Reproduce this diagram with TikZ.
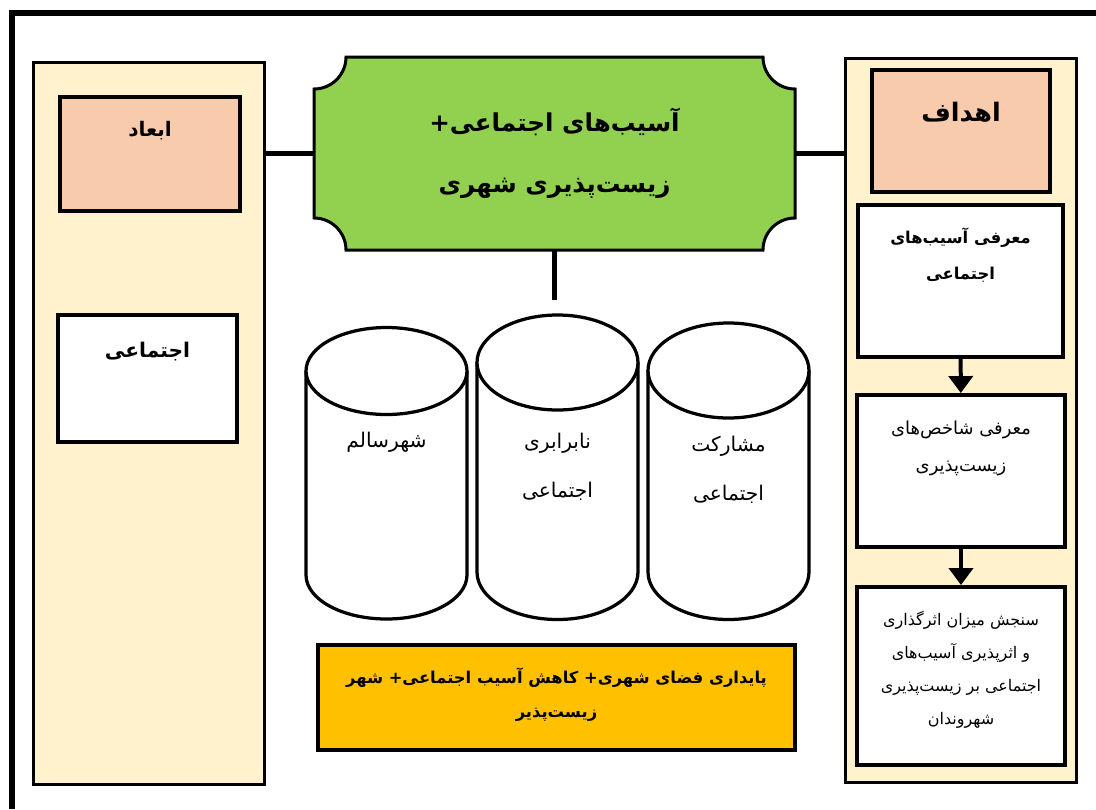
\documentclass[tikz,border=0pt]{standalone}
\usepackage{fontspec}
\newfontfamily\fa[Script=Arabic]{DejaVu Sans}
\TeXXeTstate=1
\usetikzlibrary{arrows.meta}
\definecolor{cream}{HTML}{FFF2CC}
\definecolor{peach}{HTML}{F8CBAD}
\definecolor{leaf}{HTML}{92D050}
\definecolor{amber}{HTML}{FFC000}
\tikzset{
  column/.style={draw,fill=cream,line width=0.06cm,inner sep=0pt,minimum width=4.64cm},
  headbox/.style={draw,fill=peach,line width=0.08cm,inner sep=0pt},
  whitebox/.style={draw,fill=white,line width=0.08cm,inner sep=0pt},
  link/.style={line width=0.1cm},
  flow/.style={line width=0.08cm,-{Triangle[width=0.48cm,length=0.34cm]}},
  drum/.style={draw,fill=white,line width=0.065cm},
  word/.style={font=\fa\fontsize{12}{20}\selectfont,align=center,inner sep=0pt},
  boldword/.style={align=center,inner sep=0pt,font=\fa\bfseries\fontsize{12}{20}\selectfont}
}
\begin{document}
\begin{tikzpicture}[x=0.02cm,y=-0.02cm]
  \useasboundingbox (0,0) rectangle (1096,809);
  \draw[line width=0.11cm] (12,809) -- (12,13) -- (1096,13);

  \node[column,minimum height=14.46cm] (dims) at (149,423.5) {};
  \node[column,minimum height=14.5cm] (goals) at (961,420.5) {};

  \node[headbox,minimum width=3.6cm,minimum height=2.28cm] (dimhead) at (150,154) {};
  \node[boldword,font=\fa\bfseries\fontsize{11.4}{14}\selectfont] (dimtxt) at (150,131) {\beginR ابعاد\endR};
  \node[whitebox,minimum width=3.58cm,minimum height=2.54cm] (social) at (147.5,378.5) {};
  \node[boldword,font=\fa\bfseries\fontsize{11.5}{16}\selectfont] (socialtxt) at (147.5,352) {\beginR اجتماعی\endR};

  \node[headbox,minimum width=3.56cm,minimum height=2.44cm] (goalhead) at (961,131) {};
  \node[boldword,font=\fa\bfseries\fontsize{14.5}{20}\selectfont] (goaltxt) at (961,112) {\beginR اهداف\endR};
  \node[whitebox,minimum width=4.1cm,minimum height=3.04cm] (step1) at (960.5,281) {};
  \node[boldword,font=\fa\bfseries\fontsize{9.3}{20.4}\selectfont] (step1txt) at (960.5,255) {\beginR معرفی آسیب‌های\endR\\\beginR اجتماعی\endR};
  \node[whitebox,minimum width=4.16cm,minimum height=3.04cm] (step2) at (961,471) {};
  \node[word,font=\fa\fontsize{10.2}{21}\selectfont] (step2txt) at (961,448.5) {\beginR معرفی شاخص‌های\endR\\\beginR زیست‌پذیری\endR};
  \node[whitebox,minimum width=4.16cm,minimum height=3.56cm] (step3) at (961,676) {};
  \node[word,font=\fa\fontsize{9.1}{18.7}\selectfont] (step3txt) at (961,670) {\beginR سنجش میزان اثرگذاری\endR\\\beginR و اثرپذیری آسیب‌های\endR\\\beginR اجتماعی بر زیست‌پذیری\endR\\\beginR شهروندان\endR};
  \draw[flow] (step1) -- (step2);
  \draw[flow] (step2) -- (step3);

  \fill[leaf,draw=black,line width=0.06cm] (346,57) -- (763,57)
    arc[start angle=180,end angle=90,radius=32] -- (795,218)
    arc[start angle=270,end angle=180,radius=32] -- (346,250)
    arc[start angle=360,end angle=270,radius=32] -- (314,89)
    arc[start angle=90,end angle=0,radius=32] -- cycle;
  \node[boldword,minimum width=9.62cm,minimum height=3.86cm,font=\fa\bfseries\fontsize{14}{34.6}\selectfont] (hub) at (554.5,153.5) {\beginR آسیب‌های اجتماعی+\endR\\\beginR زیست‌پذیری شهری\endR};
  \draw[link] (hub.west) -- (hub.west -| dims.east);
  \draw[link] (hub.east) -- (hub.east -| goals.west);
  \coordinate (stem) at (554.5,300);
  \draw[link] (hub.south) -- (stem);

  \draw[drum] (306,371) -- (306,575) arc[start angle=180,end angle=0,x radius=80.5,y radius=44] -- (467,371);
  \draw[drum] (386.5,371) ellipse[x radius=80.5,y radius=43.5];
  \node[word,font=\fa\fontsize{11.5}{28}\selectfont] (health) at (386.5,442) {\beginR شهرسالم\endR};
  \draw[drum] (477,362.5) -- (477,572) arc[start angle=180,end angle=0,x radius=80.5,y radius=47.5] -- (638,362.5);
  \draw[drum] (557.5,362.5) ellipse[x radius=80.5,y radius=47.5];
  \node[word,font=\fa\fontsize{11.5}{28}\selectfont] (inequal) at (557.5,467) {\beginR نابرابری\endR\\\beginR اجتماعی\endR};
  \draw[drum] (648,370.5) -- (648,572) arc[start angle=180,end angle=0,x radius=80.5,y radius=47.5] -- (809,370.5);
  \draw[drum] (728.5,370.5) ellipse[x radius=80.5,y radius=47.5];
  \node[word,font=\fa\fontsize{11.5}{28}\selectfont] (partake) at (728.5,469.5) {\beginR مشارکت\endR\\\beginR اجتماعی\endR};

  \node[draw,fill=amber,line width=0.09cm,minimum width=9.54cm,minimum height=2.1cm,inner sep=0pt] (aim) at (556.5,697.5) {};
  \node[boldword,font=\fa\bfseries\fontsize{9.3}{19.3}\selectfont] (aimtxt) at (556.5,695) {\beginR پایداری فضای شهری+ کاهش آسیب اجتماعی+ شهر\endR\\\beginR زیست‌پذیر\endR};
\end{tikzpicture}
\end{document}
